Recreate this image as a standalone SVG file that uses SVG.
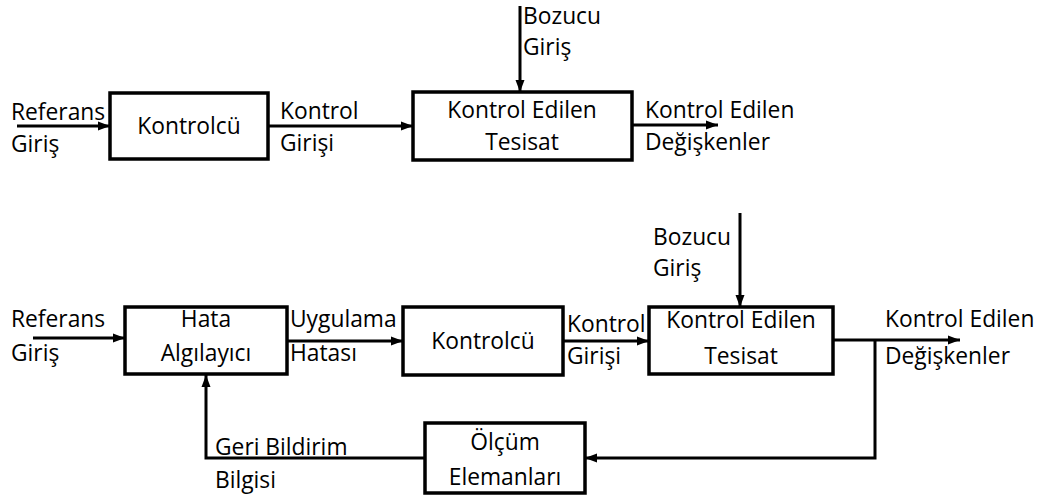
<svg xmlns="http://www.w3.org/2000/svg" width="1042" height="498" viewBox="0 0 1042 498">
<defs>
<style>
.box{fill:#fff;stroke:#000;stroke-width:3.5}
.t{font-family:"Open Sans","Noto Sans",sans-serif;font-size:22.8px;fill:#000}
.m{text-anchor:middle}
.c{fill:none;stroke:#000;stroke-width:3}
</style>
<marker id="ah" markerUnits="userSpaceOnUse" markerWidth="12" markerHeight="12" viewBox="0 0 12 12" refX="12" refY="6" orient="auto">
<path d="M0,1.5 L12,6 L0,10.5 Z" fill="#000"/>
</marker>
</defs>
<rect width="1042" height="498" fill="#fff"/>
<g id="connectors">
<path class="c" d="M17,126 H110" marker-end="url(#ah)"/>
<path class="c" d="M268,126 H413" marker-end="url(#ah)"/>
<path class="c" d="M520,6 V92" marker-end="url(#ah)"/>
<path class="c" d="M632,125 H718" marker-end="url(#ah)"/>
<path class="c" d="M33,338 H125" marker-end="url(#ah)"/>
<path class="c" d="M287,341 H403" marker-end="url(#ah)"/>
<path class="c" d="M563,341 H649" marker-end="url(#ah)"/>
<path class="c" d="M740,213 V307" marker-end="url(#ah)"/>
<path class="c" d="M833,340 H960" marker-end="url(#ah)"/>
<path class="c" d="M875,340 V458 H585" marker-end="url(#ah)"/>
<path class="c" d="M425,458 H206 V375" marker-end="url(#ah)"/>
</g>
<g id="labels">
<text class="t" x="11" y="120">Referans</text>
<text class="t" x="11" y="152">Giriş</text>
<text class="t" x="280" y="119">Kontrol</text>
<text class="t" x="280" y="151">Girişi</text>
<text class="t" x="523" y="24">Bozucu</text>
<text class="t" x="523" y="55">Giriş</text>
<text class="t" x="645" y="118">Kontrol Edilen</text>
<text class="t" x="645" y="150">Değişkenler</text>
<text class="t" x="11" y="327">Referans</text>
<text class="t" x="11" y="361">Giriş</text>
<text class="t" x="290" y="327">Uygulama</text>
<text class="t" x="290" y="361">Hatası</text>
<text class="t" x="567" y="332">Kontrol</text>
<text class="t" x="567" y="364">Girişi</text>
<text class="t" x="653" y="245">Bozucu</text>
<text class="t" x="653" y="276">Giriş</text>
<text class="t" x="885" y="327">Kontrol Edilen</text>
<text class="t" x="885" y="364">Değişkenler</text>
<text class="t" x="215" y="455">Geri Bildirim</text>
<text class="t" x="215" y="488">Bilgisi</text>
</g>
<g id="node-kontrolcu-top">
<rect class="box" x="110" y="93" width="158" height="66"/>
<text class="t m" x="189" y="134">Kontrolcü</text>
</g>
<g id="node-tesisat-top">
<rect class="box" x="413" y="92" width="219" height="68"/>
<text class="t m" x="522" y="118">Kontrol Edilen</text>
<text class="t m" x="522" y="150">Tesisat</text>
</g>
<g id="node-hata">
<rect class="box" x="125" y="307" width="162" height="67"/>
<text class="t m" x="206" y="327">Hata</text>
<text class="t m" x="206" y="361">Algılayıcı</text>
</g>
<g id="node-kontrolcu-bottom">
<rect class="box" x="403" y="307" width="160" height="68"/>
<text class="t m" x="483" y="349">Kontrolcü</text>
</g>
<g id="node-tesisat-bottom">
<rect class="box" x="649" y="307" width="184" height="67"/>
<text class="t m" x="741" y="328">Kontrol Edilen</text>
<text class="t m" x="741" y="364">Tesisat</text>
</g>
<g id="node-olcum">
<rect class="box" x="425" y="423" width="160" height="70"/>
<text class="t m" x="505" y="450">Ölçüm</text>
<text class="t m" x="505" y="485">Elemanları</text>
</g>
</svg>
